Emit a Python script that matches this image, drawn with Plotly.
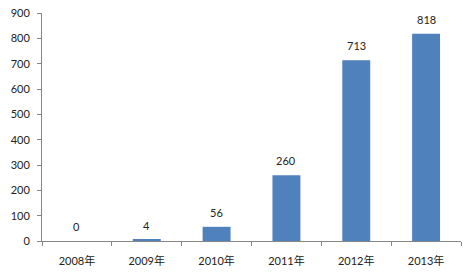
import plotly.graph_objects as go

categories = ["2008年", "2009年", "2010年", "2011年", "2012年", "2013年"]
values = [0, 4, 56, 260, 713, 818]
y_ticks = [0, 100, 200, 300, 400, 500, 600, 700, 800, 900]

font_family = "Lato, Noto Sans CJK SC, sans-serif"

fig = go.Figure(go.Bar(
    x=categories, y=values,
    marker=dict(color="#4F81BD", line=dict(width=0)),
    hoverinfo="x+y",
))

for c, v in zip(categories, values):
    fig.add_annotation(
        x=c, y=v, text=str(v), showarrow=False,
        yanchor="bottom", yshift=6,
        font=dict(size=11, color="#222222", family=font_family),
    )

fig.update_layout(
    width=466, height=275,
    margin=dict(l=42, r=5, t=13, b=34),
    paper_bgcolor="white", plot_bgcolor="white",
    bargap=0.6,
    showlegend=False,
    font=dict(family=font_family, size=11, color="#222222"),
)
fig.update_xaxes(
    showline=True, linecolor="#868686", linewidth=1,
    ticks="outside", tickson="boundaries", ticklen=4, tickcolor="#868686",
    showgrid=False, tickfont=dict(size=11), ticklabelstandoff=10,
)
fig.update_yaxes(
    range=[0, 900], tickvals=y_ticks,
    showline=True, linecolor="#868686", linewidth=1,
    ticks="outside", ticklen=4, tickcolor="#868686",
    showgrid=False, zeroline=False, tickfont=dict(size=11), ticklabelstandoff=5,
)

fig.write_html("out.html")
